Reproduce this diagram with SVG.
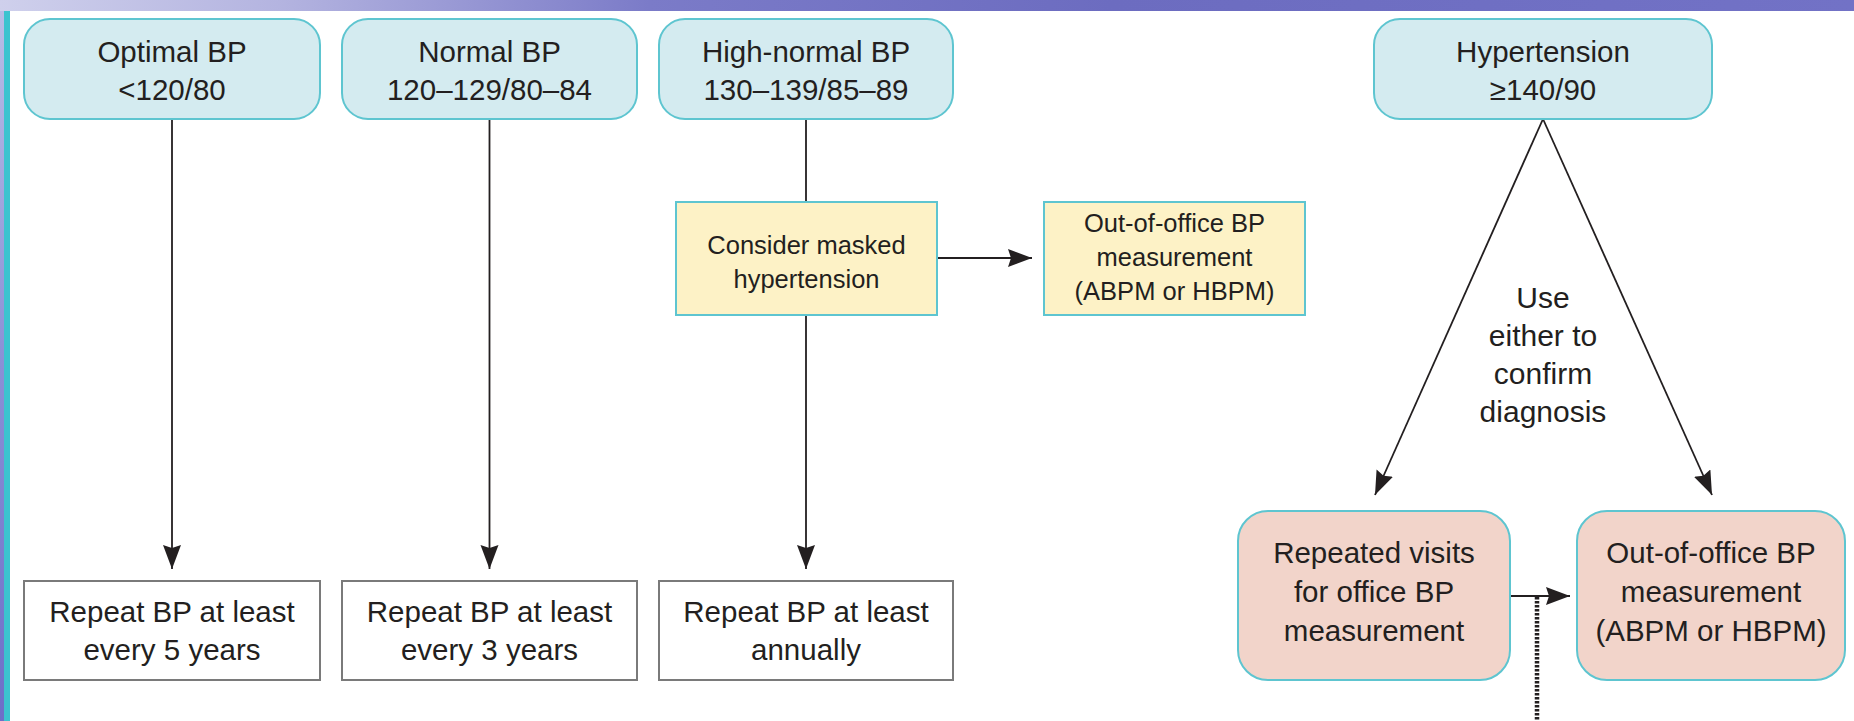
<svg xmlns="http://www.w3.org/2000/svg" width="1854" height="721" viewBox="0 0 1854 721">
<defs>
<linearGradient id="band" x1="0" y1="0" x2="1" y2="0">
<stop offset="0" stop-color="#cfd0ec"/>
<stop offset="0.15" stop-color="#b4b4e0"/>
<stop offset="0.35" stop-color="#7b7bc8"/>
<stop offset="0.6" stop-color="#6c6cc0"/>
<stop offset="1" stop-color="#7272c6"/>
</linearGradient>
<linearGradient id="side" x1="0" y1="0" x2="0" y2="1">
<stop offset="0" stop-color="#b9bde6"/>
<stop offset="0.5" stop-color="#8a90d6"/>
<stop offset="1" stop-color="#6d6fc8"/>
</linearGradient>
<marker id="ah" markerUnits="userSpaceOnUse" markerWidth="26" markerHeight="20" refX="24" refY="9" orient="auto">
<path d="M0,0 L24,9 L0,18 L3,9 z" fill="#231f20"/>
</marker>
</defs>
<style>
.t{font-family:"Liberation Sans",Arial,sans-serif;fill:#231f20;text-anchor:middle}
.big{font-size:29.5px}
.sm{font-size:25.5px}
.lbl{font-size:30px}
.blue{fill:#d4ebf0;stroke:#5ec5d0;stroke-width:2}
.yel{fill:#fdf2c6;stroke:#5ec5d0;stroke-width:2}
.pink{fill:#f2d4ca;stroke:#5ec5d0;stroke-width:2}
.wht{fill:#ffffff;stroke:#7a7a7a;stroke-width:2}
.ln{stroke:#231f20;stroke-width:1.8;fill:none}
.arr{stroke:#231f20;stroke-width:1.8;fill:none;marker-end:url(#ah)}
.dot{stroke:#231f20;stroke-width:4.5;stroke-dasharray:2.5 1.5;fill:none}
</style>
<rect x="0" y="0" width="1854" height="721" fill="#ffffff"/>
<rect x="0" y="0" width="1854" height="11" fill="url(#band)"/>
<rect x="0" y="11" width="4" height="710" fill="url(#side)"/>
<rect x="4" y="11" width="6" height="710" fill="#3cc3cf"/>

<g id="connectors">
<line class="arr" x1="172" y1="119" x2="172" y2="569"/>
<line class="arr" x1="489.5" y1="119" x2="489.5" y2="569"/>
<line class="ln" x1="806" y1="119" x2="806" y2="202"/>
<line class="arr" x1="806" y1="315" x2="806" y2="569"/>
<line class="arr" x1="937" y1="258" x2="1032" y2="258"/>
<line class="arr" x1="1543" y1="119" x2="1375" y2="495"/>
<line class="arr" x1="1543" y1="119" x2="1712" y2="495"/>
<line class="arr" x1="1510" y1="596" x2="1570" y2="596"/>
<line class="dot" x1="1537" y1="597" x2="1537" y2="721"/>
</g>

<g id="optimal">
<rect class="blue" x="24" y="19" width="296" height="100" rx="26"/>
<text class="t big" x="172" y="62">Optimal BP</text>
<text class="t big" x="172" y="100">&lt;120/80</text>
</g>
<g id="normal">
<rect class="blue" x="342" y="19" width="295" height="100" rx="26"/>
<text class="t big" x="489.5" y="62">Normal BP</text>
<text class="t big" x="489.5" y="100">120–129/80–84</text>
</g>
<g id="highnormal">
<rect class="blue" x="659" y="19" width="294" height="100" rx="26"/>
<text class="t big" x="806" y="62">High-normal BP</text>
<text class="t big" x="806" y="100">130–139/85–89</text>
</g>
<g id="hypertension">
<rect class="blue" x="1374" y="19" width="338" height="100" rx="26"/>
<text class="t big" x="1543" y="62">Hypertension</text>
<text class="t big" x="1543" y="100">≥140/90</text>
</g>

<g id="masked">
<rect class="yel" x="676" y="202" width="261" height="113"/>
<text class="t sm" x="806.5" y="254">Consider masked</text>
<text class="t sm" x="806.5" y="288">hypertension</text>
</g>
<g id="outoffice1">
<rect class="yel" x="1044" y="202" width="261" height="113"/>
<text class="t sm" x="1174.5" y="232">Out-of-office BP</text>
<text class="t sm" x="1174.5" y="266">measurement</text>
<text class="t sm" x="1174.5" y="300">(ABPM or HBPM)</text>
</g>

<g id="label">
<text class="t lbl" x="1543" y="308">Use</text>
<text class="t lbl" x="1543" y="346">either to</text>
<text class="t lbl" x="1543" y="384">confirm</text>
<text class="t lbl" x="1543" y="422">diagnosis</text>
</g>

<g id="repeat5">
<rect class="wht" x="24" y="581" width="296" height="99"/>
<text class="t big" x="172" y="622">Repeat BP at least</text>
<text class="t big" x="172" y="660">every 5 years</text>
</g>
<g id="repeat3">
<rect class="wht" x="342" y="581" width="295" height="99"/>
<text class="t big" x="489.5" y="622">Repeat BP at least</text>
<text class="t big" x="489.5" y="660">every 3 years</text>
</g>
<g id="repeat1">
<rect class="wht" x="659" y="581" width="294" height="99"/>
<text class="t big" x="806" y="622">Repeat BP at least</text>
<text class="t big" x="806" y="660">annually</text>
</g>

<g id="repeated">
<rect class="pink" x="1238" y="511" width="272" height="169" rx="30"/>
<text class="t big" x="1374" y="563">Repeated visits</text>
<text class="t big" x="1374" y="602">for office BP</text>
<text class="t big" x="1374" y="641">measurement</text>
</g>
<g id="outoffice2">
<rect class="pink" x="1577" y="511" width="268" height="169" rx="30"/>
<text class="t big" x="1711" y="563">Out-of-office BP</text>
<text class="t big" x="1711" y="602">measurement</text>
<text class="t big" x="1711" y="641">(ABPM or HBPM)</text>
</g>
</svg>
